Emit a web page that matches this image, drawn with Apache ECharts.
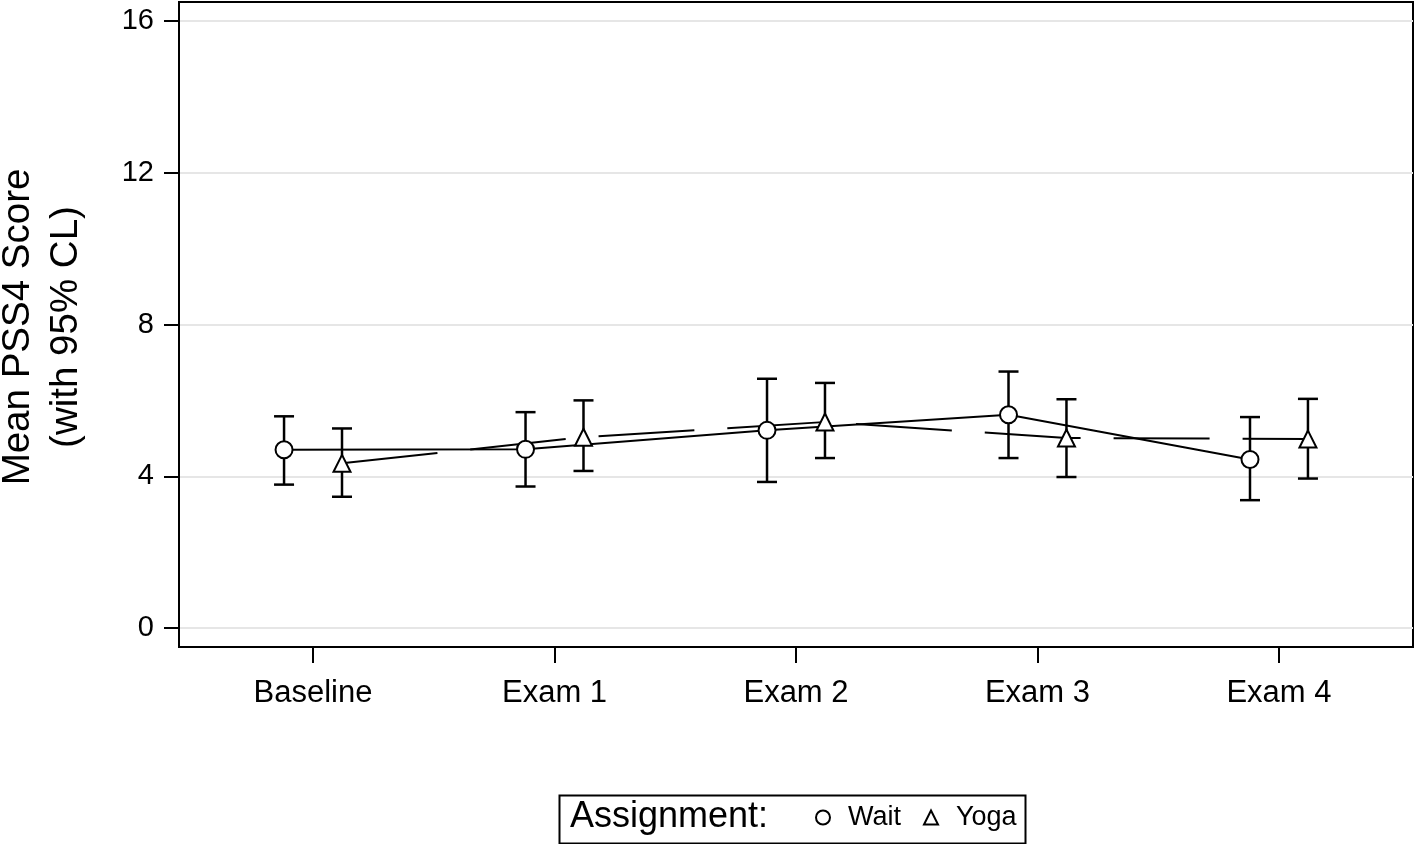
<!DOCTYPE html>
<html>
<head>
<meta charset="utf-8">
<script src="https://cdn.jsdelivr.net/npm/echarts@6/dist/echarts.min.js"></script>
<style>
html,body{margin:0;padding:0;background:#fff;}
#chart{width:1416px;height:844px;}
</style>
</head>
<body>
<div id="chart"></div>
<script>
const categories = ['Baseline', 'Exam 1', 'Exam 2', 'Exam 3', 'Exam 4'];
const waitMean = [4.70, 4.71, 5.21, 5.62, 4.44];
const waitLow  = [3.78, 3.73, 3.85, 4.48, 3.37];
const waitHigh = [5.58, 5.69, 6.57, 6.76, 5.56];
const yogaMean = [4.34, 5.03, 5.43, 5.01, 4.98];
const yogaLow  = [3.46, 4.14, 4.48, 3.98, 3.94];
const yogaHigh = [5.26, 6.00, 6.46, 6.03, 6.04];
const yTicks = [0, 4, 8, 12, 16];
const xTicks = [0, 1, 2, 3, 4];
const groupOffset = 0.12;

const FONT = "'Liberation Sans', Arial, Helvetica, sans-serif";

function pts(mean, off) { return mean.map((v, i) => [i + off, v]); }
function bars(lo, hi, off) { return lo.map((v, i) => [i + off, v, hi[i]]); }

function renderErr(params, api) {
  const x = api.value(0);
  const lo = api.coord([x, api.value(1)]);
  const hi = api.coord([x, api.value(2)]);
  const cap = 10;
  const st = { stroke: '#000', lineWidth: 2.5 };
  return {
    type: 'group',
    children: [
      { type: 'line', shape: { x1: lo[0], y1: lo[1], x2: hi[0], y2: hi[1] }, style: st },
      { type: 'line', shape: { x1: lo[0] - cap, y1: lo[1], x2: lo[0] + cap, y2: lo[1] }, style: st },
      { type: 'line', shape: { x1: hi[0] - cap, y1: hi[1], x2: hi[0] + cap, y2: hi[1] }, style: st }
    ]
  };
}

const chart = echarts.init(document.getElementById('chart'), null, { renderer: 'canvas' });
const markerStyle = { color: '#fff', borderColor: '#000', borderWidth: 2, opacity: 1 };

chart.setOption({
  animation: false,
  backgroundColor: '#fff',
  textStyle: { fontFamily: FONT },
  grid: { left: 179, right: 3, top: 2, bottom: 197, show: true, borderColor: '#000', borderWidth: 2, containLabel: false },
  xAxis: {
    type: 'value', min: -0.555, max: 4.555,
    axisLine: { show: true, onZero: false, lineStyle: { color: '#000', width: 2 } },
    axisTick: { show: true, inside: false, length: 16, lineStyle: { color: '#000', width: 2 }, customValues: xTicks },
    axisLabel: { show: true, color: '#000', fontSize: 31, fontFamily: FONT, margin: 31, customValues: xTicks,
      formatter: v => categories[Math.round(v)] },
    splitLine: { show: false }
  },
  yAxis: {
    type: 'value', min: -0.5, max: 16.5,
    axisLine: { show: true, onZero: false, lineStyle: { color: '#000', width: 2 } },
    axisTick: { show: true, inside: false, length: 15, lineStyle: { color: '#000', width: 2 }, customValues: yTicks },
    axisLabel: { show: true, color: '#000', fontSize: 29, fontFamily: FONT, margin: 25, customValues: yTicks },
    splitLine: { show: true, lineStyle: { color: '#e6e6e6', width: 2 } }
  },
  legend: {
    show: true, orient: 'horizontal', left: 815, top: 804, padding: 0,
    itemWidth: 14, itemHeight: 14, itemGap: 22,
    textStyle: { fontSize: 27, color: '#000', fontFamily: FONT, padding: [0, 0, 0, 13] },
    itemStyle: { color: '#fff', borderColor: '#000', borderWidth: 2, opacity: 1 },
    data: [{ name: 'Wait', icon: 'circle' }, { name: 'Yoga', icon: 'triangle' }],
    selectedMode: false
  },
  graphic: [
    { type: 'rect', left: 557, top: 793, shape: { width: 466, height: 48 }, style: { fill: 'none', stroke: '#000', lineWidth: 2 }, z: 10 },
    { type: 'text', left: 570, top: 799, style: { text: 'Assignment:', font: "36px " + FONT, fill: '#000' }, z: 10 },
    { type: 'text', x: 42, y: 327, rotation: Math.PI / 2,
      style: { text: 'Mean PSS4 Score\n(with 95% CL)', font: "38.5px " + FONT, fill: '#000', align: 'center', verticalAlign: 'middle', lineHeight: 48 }, z: 10 }
  ],
  series: [
    { name: 'WaitErr', type: 'custom', renderItem: renderErr, data: bars(waitLow, waitHigh, -groupOffset), z: 2, silent: true },
    { name: 'YogaErr', type: 'custom', renderItem: renderErr, data: bars(yogaLow, yogaHigh, groupOffset), z: 2, silent: true },
    { name: 'WaitLine', type: 'line', data: pts(waitMean, -groupOffset), showSymbol: false, z: 3,
      lineStyle: { color: '#000', width: 2, type: 'solid' } },
    { name: 'YogaLine', type: 'line', data: pts(yogaMean, groupOffset), showSymbol: false, z: 3,
      lineStyle: { color: '#000', width: 2, type: [96, 33] } },
    { name: 'Wait', type: 'scatter', data: pts(waitMean, -groupOffset), symbol: 'circle', symbolSize: 17, z: 4,
      itemStyle: markerStyle },
    { name: 'Yoga', type: 'scatter', data: pts(yogaMean, groupOffset), symbol: 'triangle', symbolSize: 17, z: 4,
      itemStyle: markerStyle }
  ]
});
</script>
</body>
</html>
